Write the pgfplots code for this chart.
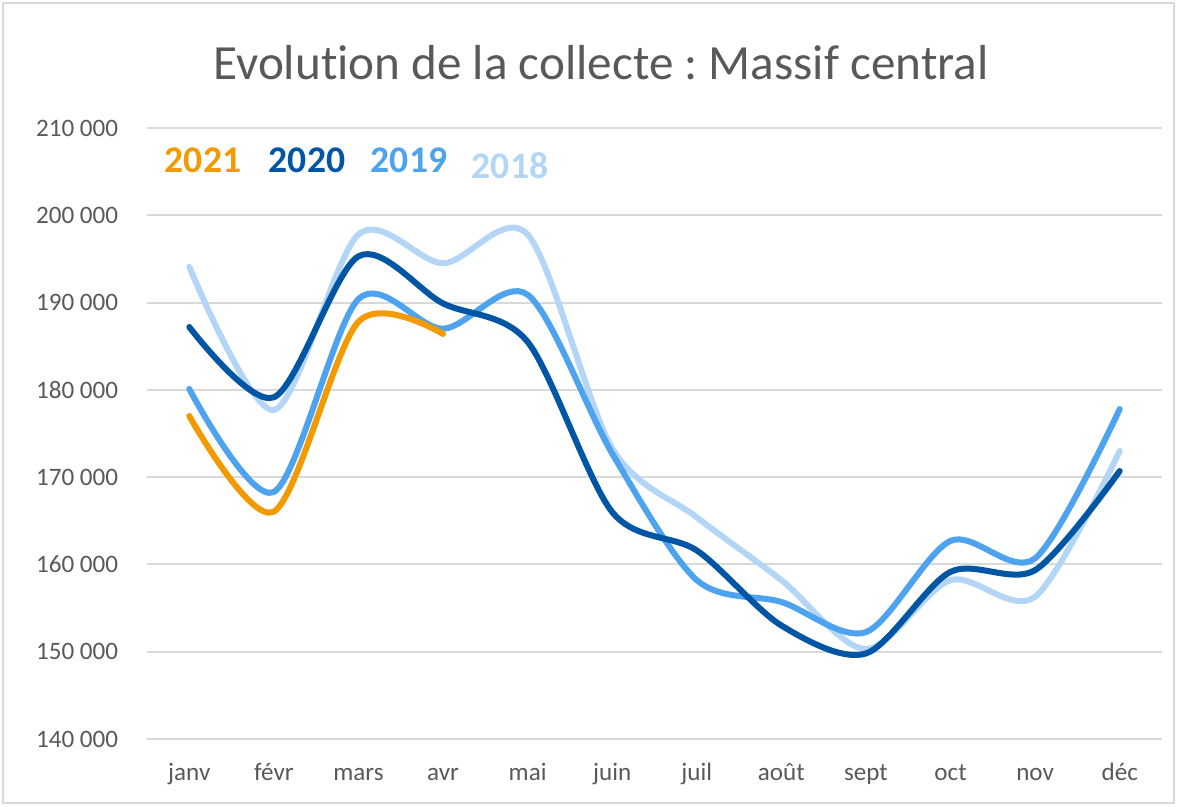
\documentclass[border=0pt]{standalone}
\usepackage{fontspec}
\setmainfont{Carlito}[Ligatures=NoCommon]
\frenchspacing
\usepackage{pgfplots}
\pgfplotsset{compat=1.18}
\definecolor{c2021}{HTML}{F29A00}
\definecolor{c2020}{HTML}{0055A5}
\definecolor{c2019}{HTML}{4DA3EE}
\definecolor{c2018}{HTML}{B3D6F7}
\definecolor{txtgray}{HTML}{595959}
\definecolor{gridgray}{HTML}{D9D9D9}

% monthly collection, Massif central
\pgfplotstableread{
m  y2018  y2019  y2020
0  194100 180100 187200
1  177700 168300 179150
2  197800 190400 195300
3  194500 187000 189900
4  197800 190900 185500
5  173300 172700 166000
6  165400 158200 161600
7  158200 155700 153000
8  150300 152250 149800
9  158200 162700 159150
10 156300 160700 159350
11 173000 177800 170700
}\collecte

\begin{document}
\begin{tikzpicture}
% 1 px of the reference = 0.014cm
\path[use as bounding box] (0,0) rectangle (1178*0.014cm,-807*0.014cm);
\draw[gridgray,line width=0.8pt] (3*0.014cm,-3*0.014cm) rectangle (1174*0.014cm,-803*0.014cm);
\node[anchor=base,text=txtgray,font=\fontsize{19.6}{23}\selectfont] at (601*0.014cm,-80*0.014cm)
  {Evolution de la collecte : Massif central};
\begin{axis}[
    at={(147*0.014cm,-739*0.014cm)}, anchor=south west,
    width=1015*0.014cm, height=611*0.014cm,
    scale only axis,
    xmin=-0.5, xmax=11.5,
    ymin=140000, ymax=210000,
    xtick={0,...,11},
    xticklabels={janv,févr,mars,avr,mai,juin,juil,août,sept,oct,nov,déc},
    ytick={140000,150000,160000,170000,180000,190000,200000,210000},
    yticklabels={140 000,150 000,160 000,170 000,180 000,190 000,200 000,210 000},
    scaled y ticks=false,
    axis line style={draw=none},
    major tick length=0pt,
    ymajorgrids,
    grid style={gridgray,line width=0.8pt},
    tick label style={text=txtgray,font=\fontsize{10}{12}\selectfont},
    yticklabel style={xshift=-8pt},
    xticklabel style={anchor=base,yshift=-16.5pt},
    every axis plot/.append style={line width=2.4pt,smooth,no markers,line cap=round},
]
\addplot[c2018] table[x=m,y=y2018] {\collecte};
\addplot[c2019] table[x=m,y=y2019] {\collecte};
\addplot[c2020] table[x=m,y=y2020] {\collecte};
\addplot[c2021] coordinates {(0,177000) (1,166050) (2,187800) (3,186400)};
\end{axis}
\node[text=c2021,font=\fontsize{15}{18}\selectfont\bfseries] at (203*0.014cm,-160*0.014cm) {2021};
\node[text=c2020,font=\fontsize{15}{18}\selectfont\bfseries] at (307*0.014cm,-160*0.014cm) {2020};
\node[text=c2019,font=\fontsize{15}{18}\selectfont\bfseries] at (409*0.014cm,-160*0.014cm) {2019};
\node[text=c2018,font=\fontsize{15}{18}\selectfont\bfseries] at (510*0.014cm,-166*0.014cm) {2018};
\end{tikzpicture}
\end{document}
